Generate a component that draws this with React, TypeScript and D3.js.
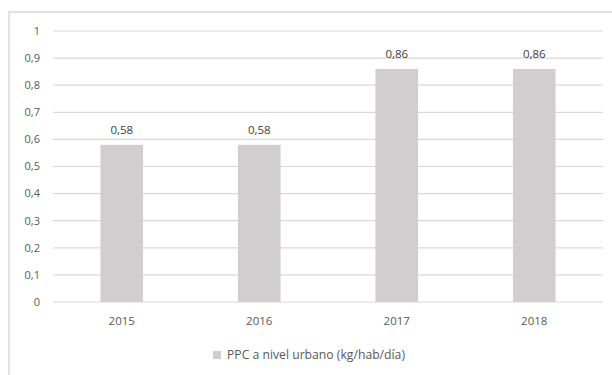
import React from "react";
import * as d3 from "d3";

const categories = ["2015", "2016", "2017", "2018"];
const values = [0.58, 0.58, 0.86, 0.86];
const yTicks = [0, 0.1, 0.2, 0.3, 0.4, 0.5, 0.6, 0.7, 0.8, 0.9, 1];
const seriesName = "PPC a nivel urbano (kg/hab/día)";

const fmtTick = (v: number) => String(Math.round(v * 10) / 10).replace(".", ",");

export default function App() {
  const W = 612, H = 375;
  const left = 53, right = 603, top = 31, bottom = 302;
  const x = d3.scaleBand<string>().domain(categories).range([left, right]).paddingInner(0.69).paddingOuter(0.345);
  const y = d3.scaleLinear().domain([0, 1]).range([bottom, top]);
  const font = "'Open Sans', sans-serif";
  const txt = "#595959";
  return (
    <svg width={W} height={H} style={{ position: "absolute", left: 0, top: 0, background: "#fff" }}>
      <rect x={9} y={12} width={W} height={H} fill="#fff" stroke="#d9d9d9" strokeWidth={1.5} />
      {yTicks.map((t) => (
        <g key={t}>
          <line x1={left} x2={right} y1={y(t)} y2={y(t)} stroke="#d9d9d9" strokeWidth={1.2} />
          <text x={40} y={y(t)} dy="0.35em" textAnchor="end" fontSize={11} fill={txt} fontFamily={font}>
            {fmtTick(t)}
          </text>
        </g>
      ))}
      {categories.map((c, i) => (
        <g key={c}>
          <rect x={x(c)} y={y(values[i])} width={x.bandwidth()} height={bottom - y(values[i])} fill="#d0cecf" />
          <text x={x(c)! + x.bandwidth() / 2} y={y(values[i]) - 15} dy="0.35em" textAnchor="middle" fontSize={11.5} fill="#404040" fontFamily={font}>
            {values[i].toFixed(2).replace(".", ",")}
          </text>
          <text x={x(c)! + x.bandwidth() / 2} y={bottom + 19} dy="0.35em" textAnchor="middle" fontSize={11.5} fill={txt} fontFamily={font}>
            {c}
          </text>
        </g>
      ))}
      <rect x={213} y={351} width={8} height={8} fill="#d0cecf" />
      <text x={227} y={355} dy="0.35em" fontSize={12.2} fill={txt} fontFamily={font}>
        {seriesName}
      </text>
    </svg>
  );
}
